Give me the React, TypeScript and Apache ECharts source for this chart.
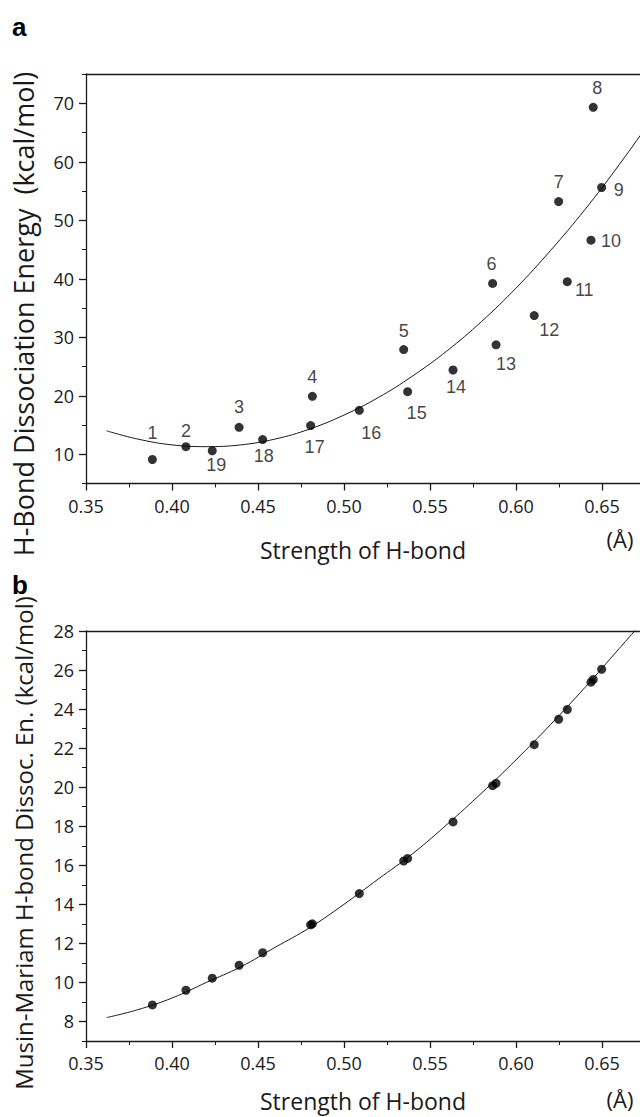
import React, { useEffect, useRef } from "react";
import * as echarts from "echarts";

// ---- data ----
const pointIds = ["1","2","3","4","5","6","7","8","9","10","11","12","13","14","15","16","17","18","19"];
const strengthX = [0.3886, 0.4081, 0.439, 0.4816, 0.5347, 0.5864, 0.6248, 0.6449, 0.6498, 0.6436, 0.6298, 0.6106, 0.5884, 0.5634, 0.537, 0.5089, 0.4806, 0.4527, 0.4234];
const energyA = [9.1, 11.3, 14.6, 19.9, 27.9, 39.2, 53.2, 69.3, 55.6, 46.6, 39.5, 33.7, 28.7, 24.4, 20.7, 17.5, 14.9, 12.5, 10.6];
const energyB = [8.85, 9.6, 10.88, 13.0, 16.22, 20.08, 23.48, 25.52, 26.04, 25.38, 23.98, 22.18, 20.2, 18.22, 16.35, 14.55, 12.95, 11.52, 10.22];

const curveAX = [0.362, 0.38, 0.40, 0.42, 0.44, 0.46, 0.48, 0.50, 0.52, 0.54, 0.56, 0.58, 0.60, 0.62, 0.64, 0.66, 0.68, 0.70];
const curveAY = [14.0, 12.6, 11.6, 11.3, 11.6, 12.6, 14.3, 16.7, 19.7, 23.4, 27.7, 32.7, 38.4, 44.8, 51.8, 59.5, 67.8, 76.8];
const curveBX = [0.362, 0.38, 0.40, 0.42, 0.44, 0.46, 0.48, 0.50, 0.52, 0.54, 0.56, 0.58, 0.60, 0.62, 0.64, 0.66, 0.675];
const curveBY = [8.2, 8.6, 9.2, 10.0, 10.8, 11.8, 12.8, 14.0, 15.3, 16.6, 18.1, 19.7, 21.4, 23.2, 25.1, 27.1, 28.6];

const xTickLabels = [0.35, 0.4, 0.45, 0.5, 0.55, 0.6, 0.65];
const yTickLabelsA = [10, 20, 30, 40, 50, 60, 70];
const yTickLabelsB = [8, 10, 12, 14, 16, 18, 20, 22, 24, 26, 28];

// label placement (layout, px offsets from each point)
const labelOffsets: [number, number][] = [
  [0, -27], [0, -16], [0, -20], [0, -19], [0, -19], [-1, -19], [0, -20], [4, -19],
  [17, 3], [20, 1], [17, 8], [15, 14], [10, 19], [3, 17], [9, 21], [12, 23], [4, 21], [1, 16], [4, 14],
];

const INK = "#1a1a1a";
const TICK_FONT = "'Open Sans', sans-serif";
const GRID_W = 602;

function xAxes(gridIndex: number) {
  return [
    {
      gridIndex, type: "value", position: "bottom", min: 0.35, max: 0.7, interval: 0.05,
      axisLine: { show: true, lineStyle: { color: INK, width: 1.3 } },
      axisTick: { show: true, inside: false, length: 7, lineStyle: { color: INK, width: 1.3 } },
      minorTick: { show: true, splitNumber: 2, length: 4, lineStyle: { color: INK, width: 1 } },
      splitLine: { show: false }, minorSplitLine: { show: false },
      axisLabel: {
        show: true, margin: 13, fontFamily: TICK_FONT, fontSize: 18, color: INK,
        customValues: xTickLabels,
        formatter: (v: number) => (v < 0.675 ? v.toFixed(2) : ""),
      },
    },
    {
      gridIndex, type: "value", position: "top", min: 0.35, max: 0.7,
      axisLine: { show: true, lineStyle: { color: INK, width: 1.3 } },
      axisTick: { show: false }, axisLabel: { show: false }, splitLine: { show: false },
    },
  ];
}

function yAxes(gridIndex: number, min: number, max: number, minorInterval: number, labels: number[]) {
  return [
    {
      gridIndex, type: "value", position: "left", min, max, interval: minorInterval,
      axisLine: { show: true, lineStyle: { color: INK, width: 1.3 } },
      axisTick: { show: true, inside: false, length: 7, customValues: labels, lineStyle: { color: INK, width: 1.3 } },
      splitLine: { show: false },
      axisLabel: {
        show: true, margin: 12, fontFamily: TICK_FONT, fontSize: 18, color: INK,
        customValues: labels,
        formatter: (v: number) => (labels.indexOf(v) >= 0 ? String(v) : ""),
      },
    },
    {
      gridIndex, type: "value", position: "right", offset: -GRID_W, min, max, interval: minorInterval,
      axisLine: { show: false },
      axisTick: { show: true, inside: true, length: 4, lineStyle: { color: INK, width: 1 } },
      axisLabel: { show: false }, splitLine: { show: false },
    },
  ];
}

function scatterData(ys: number[]) {
  return strengthX.map((x, i) => ({
    value: [x, ys[i]],
    label: { offset: labelOffsets[i] },
  }));
}

export default function App() {
  const ref = useRef<HTMLDivElement>(null);
  useEffect(() => {
    if (!ref.current) return;
    const chart = echarts.init(ref.current, undefined, { renderer: "svg" });
    const option: any = {
      animation: false,
      backgroundColor: "#ffffff",
      grid: [
        { left: 86, top: 74, width: GRID_W, height: 409.5, outerBoundsMode: "none", containLabel: false },
        { left: 86, top: 631, width: GRID_W, height: 410, outerBoundsMode: "none", containLabel: false },
      ],
      xAxis: [...xAxes(0), ...xAxes(1)],
      yAxis: [...yAxes(0, 5, 75, 5, yTickLabelsA), ...yAxes(1, 7, 28, 1, yTickLabelsB)],
      series: [
        {
          type: "line", xAxisIndex: 0, yAxisIndex: 0, smooth: 0.4, symbol: "none",
          lineStyle: { color: INK, width: 1 }, z: 1,
          data: curveAX.map((x, i) => [x, curveAY[i]]),
        },
        {
          type: "scatter", xAxisIndex: 0, yAxisIndex: 0, symbol: "circle", symbolSize: 9,
          itemStyle: { color: "#000" }, z: 3,
          label: {
            show: true, position: "inside", color: "#111", fontSize: 18,
            fontFamily: "'Liberation Sans', Arial, sans-serif",
            formatter: (p: any) => pointIds[p.dataIndex],
          },
          data: scatterData(energyA),
        },
        {
          type: "line", xAxisIndex: 2, yAxisIndex: 2, smooth: 0.4, symbol: "none",
          lineStyle: { color: INK, width: 1 }, z: 1,
          data: curveBX.map((x, i) => [x, curveBY[i]]),
        },
        {
          type: "scatter", xAxisIndex: 2, yAxisIndex: 2, symbol: "circle", symbolSize: 9,
          itemStyle: { color: "#000" }, z: 3,
          data: strengthX.map((x, i) => [x, energyB[i]]),
        },
      ],
      graphic: [
        { type: "text", left: 12, top: 14, style: { text: "a", font: "bold 26px 'Liberation Sans', Arial, sans-serif", fill: "#000" } },
        { type: "text", left: 12, top: 572, style: { text: "b", font: "bold 26px 'Liberation Sans', Arial, sans-serif", fill: "#000" } },
        { type: "text", x: 363, y: 550, style: { text: "Strength of H-bond", font: "23px 'Open Sans', sans-serif", fill: INK, textAlign: "center", textVerticalAlign: "middle" } },
        { type: "text", x: 620, y: 539, style: { text: "(Å)", font: "22px 'Open Sans', sans-serif", fill: INK, textAlign: "center", textVerticalAlign: "middle" } },
        { type: "text", x: 363, y: 1101, style: { text: "Strength of H-bond", font: "23px 'Open Sans', sans-serif", fill: INK, textAlign: "center", textVerticalAlign: "middle" } },
        { type: "text", x: 620, y: 1099, style: { text: "(Å)", font: "22px 'Open Sans', sans-serif", fill: INK, textAlign: "center", textVerticalAlign: "middle" } },
        { type: "text", x: 23, y: 314, rotation: Math.PI / 2, style: { text: "H-Bond Dissociation Energy  (kcal/mol)", font: "27px 'Open Sans', sans-serif", fill: INK, textAlign: "center", textVerticalAlign: "middle" } },
        { type: "text", x: 23, y: 843, rotation: Math.PI / 2, style: { text: "Musin-Mariam H-bond Dissoc. En. (kcal/mol)", font: "24px 'Open Sans', sans-serif", fill: INK, textAlign: "center", textVerticalAlign: "middle" } },
      ],
    };
    chart.setOption(option);
    return () => chart.dispose();
  }, []);
  return (
    <div
      ref={ref}
      style={{ position: "absolute", left: 0, top: 0, width: 640, height: 1117, overflow: "hidden" }}
    />
  );
}
